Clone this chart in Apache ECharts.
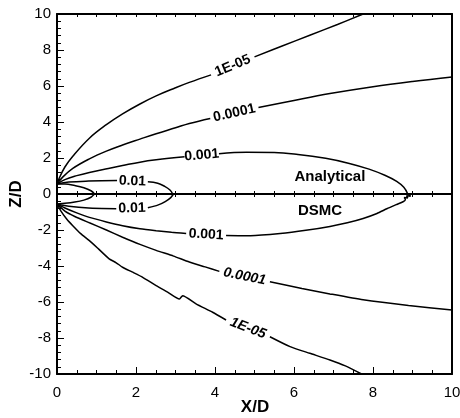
<!DOCTYPE html>
<html>
<head>
<meta charset="utf-8">
<script src="https://cdn.jsdelivr.net/npm/echarts@6/dist/echarts.min.js"></script>
<style>
  html, body { margin: 0; padding: 0; background: #fff; }
  #chart { width: 460px; height: 418px; }
</style>
</head>
<body>
<div id="chart"></div>
<script>
// axes
const xRange = [0, 10];
const zUpperRange = [0, 10];
const zLowerRange = [-10, 0];
const tickStep = 2;

// Analytical contours (Z/D > 0), points [X/D, Z/D]; each split where its label sits
const anaInner = [[0,0.55],[0.2,0.55],[0.45,0.47],[0.68,0.35],[0.86,0.18],[0.95,0]];
const ana01a = [[0,0.55],[0.3,0.66],[0.8,0.72],[1.52,0.75]];
const ana01b = [[2.3,0.68],[2.55,0.6],[2.72,0.43],[2.86,0.22],[2.93,0]];
const ana001a = [[0,0.55],[0.2,0.8],[0.5,1.02],[0.82,1.2],[1.3,1.42],[1.66,1.58],[2.1,1.77],[2.51,1.9],[3.23,2.07]];
const ana001b = [[4.1,2.24],[4.8,2.32],[5.5,2.31],[6.1,2.2],[6.8,1.98],[7.4,1.7],[7.9,1.38],[8.3,1.04],[8.6,0.7],[8.78,0.37],[8.88,0]];
const ana0001a = [[0,0.55],[0.15,0.95],[0.4,1.42],[0.82,1.95],[1.25,2.38],[1.66,2.72],[2.1,3.05],[2.51,3.35],[3.0,3.68],[3.35,3.92],[3.88,4.2]];
const ana0001b = [[5.1,4.8],[6.0,5.2],[6.91,5.58],[8.0,5.96],[9.0,6.25],[10,6.5]];
const ana1e5a = [[0,0.55],[0.05,0.85],[0.2,1.5],[0.4,2.1],[0.82,3.1],[1.25,3.85],[1.66,4.45],[2.1,5.0],[2.51,5.45],[3.0,5.9],[3.35,6.2],[3.9,6.62]];
const ana1e5b = [[5.0,7.62],[5.7,8.22],[6.4,8.82],[7.1,9.42],[7.75,10]];

// DSMC contours (Z/D < 0)
const dsmcInner = [[0,-0.55],[0.2,-0.52],[0.45,-0.45],[0.68,-0.34],[0.86,-0.18],[0.95,0]];
const dsmc01a = [[0,-0.55],[0.3,-0.68],[0.8,-0.78],[1.5,-0.82]];
const dsmc01b = [[2.3,-0.76],[2.55,-0.62],[2.74,-0.42],[2.88,-0.2],[2.95,0]];
const dsmc001a = [[0,-0.55],[0.2,-0.78],[0.5,-1.05],[0.82,-1.3],[1.25,-1.55],[1.66,-1.76],[2.1,-1.93],[2.51,-2.04],[2.9,-2.13],[3.27,-2.19]];
const dsmc001b = [[4.28,-2.31],[4.9,-2.32],[5.65,-2.2],[6.3,-2.02],[6.91,-1.8],[7.35,-1.6],[7.75,-1.36],[8.1,-1.08],[8.35,-0.82],[8.6,-0.58],[8.76,-0.43],[8.82,-0.3],[8.79,-0.2],[8.88,-0.22],[8.85,-0.1],[8.95,-0.12],[8.9,0]];
const dsmc0001a = [[0,-0.55],[0.2,-0.95],[0.45,-1.25],[0.82,-1.6],[1.25,-2.0],[1.66,-2.4],[2.1,-2.8],[2.51,-3.13],[2.95,-3.45],[3.35,-3.78],[3.75,-4.05],[4.11,-4.3]];
const dsmc0001b = [[5.39,-4.87],[6.2,-5.25],[6.91,-5.55],[7.75,-5.88],[8.9,-6.2],[10,-6.45]];
const dsmc1e5a = [[0,-0.55],[0.1,-0.95],[0.25,-1.4],[0.4,-1.76],[0.6,-2.2],[0.82,-2.59],[1.05,-3.05],[1.32,-3.6],[1.5,-3.82],[1.66,-4.07],[1.9,-4.33],[2.17,-4.63],[2.51,-5.09],[2.8,-5.45],[3.1,-5.83],[3.18,-5.65],[3.52,-6.1],[3.94,-6.57],[4.28,-7.0]];
const dsmc1e5b = [[5.39,-7.93],[5.9,-8.48],[6.4,-8.85],[6.91,-9.22],[7.3,-9.55],[7.71,-10]];

// [label, piece before, piece after, half]  (null label = unlabelled loop)
const contours = [
  [null, anaInner, null, 'up'],
  ['0.01', ana01a, ana01b, 'up'],
  ['0.001', ana001a, ana001b, 'up'],
  ['0.0001', ana0001a, ana0001b, 'up'],
  ['1E-05', ana1e5a, ana1e5b, 'up'],
  [null, dsmcInner, null, 'down'],
  ['0.01', dsmc01a, dsmc01b, 'down'],
  ['0.001', dsmc001a, dsmc001b, 'down'],
  ['0.0001', dsmc0001a, dsmc0001b, 'down'],
  ['1E-05', dsmc1e5a, dsmc1e5b, 'down']
];

const regionNames = ['Analytical', 'DSMC'];
const regionPos = [[6.91, 0.94], [6.66, -0.94]];

const FONT = '"Liberation Sans", Arial, Helvetica, sans-serif';

function frameLine() {
  return { show: true, onZero: false, lineStyle: { color: '#000', width: 2 } };
}
function ticks(len, minorLen, split) {
  return {
    axisTick: { show: true, inside: true, length: len, lineStyle: { color: '#000', width: 1 } },
    minorTick: { show: true, splitNumber: split, length: minorLen, lineStyle: { color: '#000', width: 1 } }
  };
}
function xAx(grid, pos, opts) {
  return Object.assign({
    type: 'value', gridIndex: grid, position: pos, min: xRange[0], max: xRange[1], interval: tickStep,
    axisLine: frameLine(), splitLine: { show: false }, axisLabel: { show: false }
  }, ticks(3, 3, 4), opts);
}
function yAx(grid, pos, range, opts) {
  return Object.assign({
    type: 'value', gridIndex: grid, position: pos, min: range[0], max: range[1], interval: tickStep,
    axisLine: frameLine(), splitLine: { show: false },
    axisTick: { show: false }, minorTick: { show: false }, axisLabel: { show: false }
  }, opts);
}
function yLabel(hideMax) {
  return { show: true, color: '#000', fontSize: 15, fontFamily: FONT, margin: 6, showMaxLabel: !hideMax };
}

const series = [];
contours.forEach(function (c) {
  const down = c[3] === 'down';
  [c[1], c[2]].forEach(function (piece) {
    if (!piece) return;
    series.push({
      type: 'line', xAxisIndex: down ? 2 : 0, yAxisIndex: down ? 2 : 0,
      data: piece, showSymbol: false, smooth: down ? 0.2 : 0.4,
      lineStyle: { color: '#000', width: 1.5 }
    });
  });
});

const chart = echarts.init(document.getElementById('chart'));
chart.setOption({
  animation: false,
  grid: [
    { left: 57, top: 14, width: 395, height: 180, outerBoundsMode: 'none', containLabel: false },
    { left: 57, top: 194, width: 395, height: 180, outerBoundsMode: 'none', containLabel: false }
  ],
  xAxis: [
    xAx(0, 'bottom', {}),
    xAx(0, 'top', {}),
    xAx(1, 'bottom', Object.assign(ticks(7, 4, 4), {
      axisLabel: { show: true, color: '#000', fontSize: 15, fontFamily: FONT, margin: 11 }
    })),
    xAx(1, 'top', {})
  ],
  yAxis: [
    yAx(0, 'left', zUpperRange, Object.assign(ticks(7, 4, 5), { axisLabel: yLabel(false) })),
    yAx(0, 'right', zUpperRange, {}),
    yAx(1, 'left', zLowerRange, Object.assign(ticks(7, 4, 5), { axisLabel: yLabel(true) })),
    yAx(1, 'right', zLowerRange, {})
  ],
  series: series
});

// text laid on top: contour labels in their gaps, turned along the gap's chord
function finderOf(down) { return { xAxisIndex: down ? 2 : 0, yAxisIndex: down ? 2 : 0 }; }
function textAt(pix, str, font, rot) {
  return {
    type: 'text', x: pix[0], y: pix[1], rotation: rot || 0, z: 10,
    style: { text: str, font: font, fill: '#000', align: 'center', verticalAlign: 'middle' }
  };
}
const texts = [];
contours.forEach(function (c) {
  if (!c[0]) return;
  const down = c[3] === 'down';
  const a = chart.convertToPixel(finderOf(down), c[1][c[1].length - 1]);
  const b = chart.convertToPixel(finderOf(down), c[2][0]);
  const rot = -Math.atan2(b[1] - a[1], b[0] - a[0]);
  const slanted = down && Math.abs(rot) > 0.14;
  texts.push(textAt([(a[0] + b[0]) / 2, (a[1] + b[1]) / 2], c[0],
    (slanted ? 'italic ' : '') + 'bold 14px ' + FONT, rot));
});
regionNames.forEach(function (name, i) {
  texts.push(textAt(chart.convertToPixel(finderOf(i === 1), regionPos[i]), name, 'bold 15px ' + FONT, 0));
});
texts.push(textAt([16, 194], 'Z/D', 'bold 17px ' + FONT, Math.PI / 2));
texts.push(textAt([255, 407], 'X/D', 'bold 17px ' + FONT, 0));
chart.setOption({ graphic: texts });
</script>
</body>
</html>
